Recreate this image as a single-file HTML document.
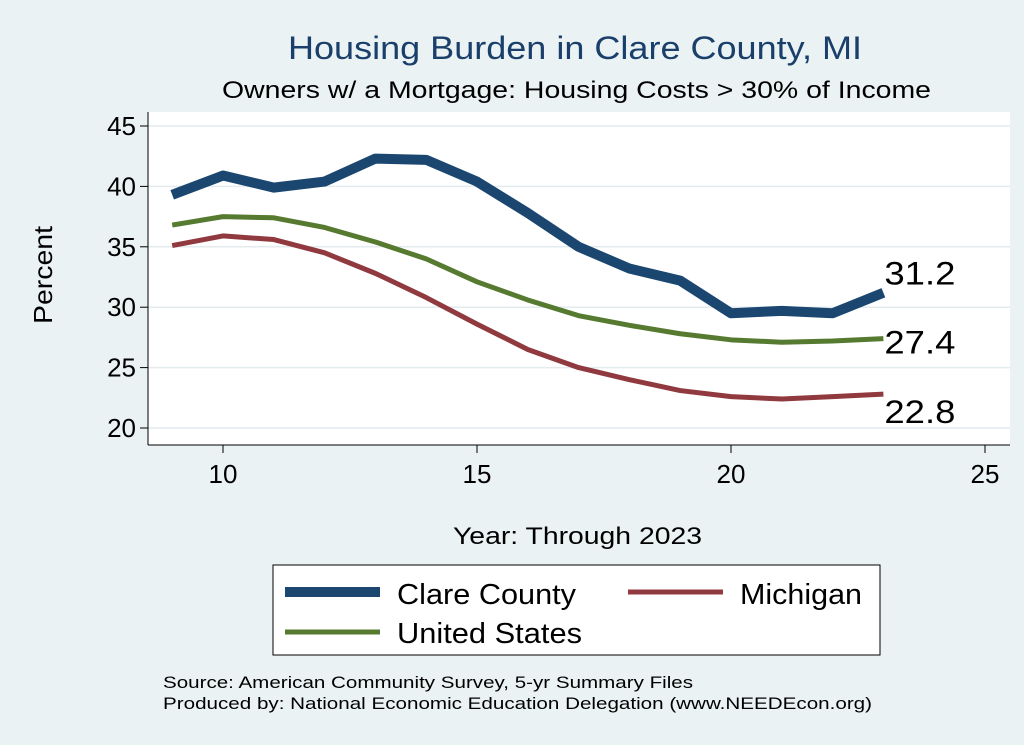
<!DOCTYPE html>
<html><head><meta charset="utf-8"><style>
body{margin:0;background:#eaf2f3;}
svg{display:block;font-family:"Liberation Sans",Arial,sans-serif;}
</style></head><body>
<svg width="1024" height="745">
<rect x="0" y="0" width="1024" height="745" fill="#eaf2f3"/>
<text x="288" y="59" font-size="32" fill="#1a3f6b" textLength="574" lengthAdjust="spacingAndGlyphs">Housing Burden in Clare County, MI</text>
<text x="222" y="98" font-size="24" fill="#000" textLength="709" lengthAdjust="spacingAndGlyphs">Owners w/ a Mortgage: Housing Costs &gt; 30% of Income</text>
<rect x="148" y="112" width="862" height="333" fill="#fff"/>
<g id="grid"></g>
<g id="axes"></g>
<g id="series"></g>
<text x="52" y="275" font-size="26" text-anchor="middle" transform="rotate(-90 52 275)" textLength="98" lengthAdjust="spacingAndGlyphs">Percent</text>
<text x="453" y="544" font-size="24" textLength="249" lengthAdjust="spacingAndGlyphs">Year: Through 2023</text>
<g>
<rect x="273" y="565" width="607" height="90" fill="#fff" stroke="#000" stroke-width="1"/>
<line x1="285" y1="592" x2="380" y2="592" stroke="#1a4670" stroke-width="10"/>
<text x="397" y="604" font-size="29" textLength="179" lengthAdjust="spacingAndGlyphs">Clare County</text>
<line x1="628" y1="592" x2="723" y2="592" stroke="#903a3f" stroke-width="5"/>
<text x="740" y="604" font-size="29" textLength="122" lengthAdjust="spacingAndGlyphs">Michigan</text>
<line x1="285" y1="632" x2="380" y2="632" stroke="#567a30" stroke-width="5"/>
<text x="397" y="643" font-size="29" textLength="185" lengthAdjust="spacingAndGlyphs">United States</text>
</g>
<text x="163" y="688" font-size="17" textLength="530" lengthAdjust="spacingAndGlyphs">Source: American Community Survey, 5-yr Summary Files</text>
<text x="163" y="709" font-size="17" textLength="709" lengthAdjust="spacingAndGlyphs">Produced by: National Economic Education Delegation (www.NEEDEcon.org)</text>
</svg>
<script>
const years=[9,10,11,12,13,14,15,16,17,18,19,20,21,22,23];
const clare=[39.3,40.9,39.9,40.4,42.3,42.2,40.4,37.8,35.0,33.2,32.2,29.5,29.7,29.5,31.2];
const us=[36.8,37.5,37.4,36.6,35.4,34.0,32.1,30.6,29.3,28.5,27.8,27.3,27.1,27.2,27.4];
const mi=[35.1,35.9,35.6,34.5,32.8,30.8,28.6,26.5,25.0,24.0,23.1,22.6,22.4,22.6,22.8];
const yTicks=[20,25,30,35,40,45];
const xTicks=[10,15,20,25];
const NS='http://www.w3.org/2000/svg';
const X=v=>223+(v-10)*50.8;
const Y=v=>428-(v-20)*12.08;
function mk(tag,attrs,parent,text){const e=document.createElementNS(NS,tag);for(const k in attrs)e.setAttribute(k,attrs[k]);if(text!==undefined)e.textContent=text;document.getElementById(parent).appendChild(e);return e;}
yTicks.forEach(t=>{
 const g=mk('line',{x1:148,x2:1010,y1:Y(t),y2:Y(t),stroke:'#e4ebee','stroke-width':1.5},'grid');
 
 
 const tk=mk('line',{x1:140,x2:148,y1:Y(t),y2:Y(t),stroke:'#000'},'axes');
 
 
 const l=mk('text',{x:136,y:Y(t)+9,'font-size':26,'text-anchor':'end'},'axes',t);
 
 
});
xTicks.forEach(t=>{
 const tk=mk('line',{x1:X(t),x2:X(t),y1:445,y2:453,stroke:'#000'},'axes');
 
 
 const l=mk('text',{x:X(t),y:483,'font-size':26,'text-anchor':'middle'},'axes',t);
 
 
});
const ya=mk('line',{x1:148,x2:148,y1:112,y2:445,stroke:'#000'},'axes');


const xa=mk('line',{x1:148,x2:1010,y1:445,y2:445,stroke:'#000'},'axes');


function series(vals,color,w,name,ly){
 const d=vals.map((v,i)=>(i?'L':'M')+X(years[i])+','+Y(v)).join(' ');
 const p=mk('path',{d:d,fill:'none',stroke:color,'stroke-width':w,'stroke-linejoin':'round'},'series');
 
 
 const last=vals[vals.length-1];
 const t=mk('text',{x:X(years[years.length-1])+1,y:Y(last)+ly,'font-size':32,textLength:71,lengthAdjust:'spacingAndGlyphs'},'series',last.toFixed(1));
 
 
}
series(mi,'#903a3f',5,'michigan',29);
series(us,'#567a30',5,'us',15);
series(clare,'#1a4670',10,'clare',-8);
</script>
</body></html>
